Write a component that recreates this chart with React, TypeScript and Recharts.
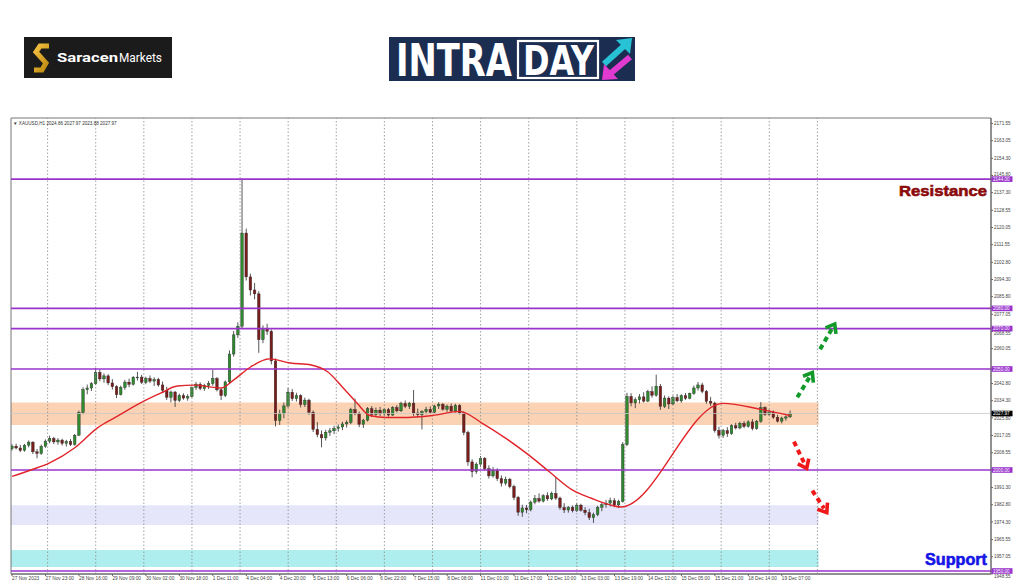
import React from "react";
import { ComposedChart, Bar, Line, XAxis, YAxis, ReferenceLine, ReferenceArea } from "recharts";

// XAUUSD candles, one candle per 2 hours
const opens = [
  2010.5, 2011.8, 2010.9, 2009.7, 2012.3, 2013.8, 2009.0, 2008.2, 2011.7, 2014.3, 2015.6, 2013.9, 2014.8, 2013.2, 2014.1, 2012.6,
  2017.2, 2028.5, 2039.8, 2040.6, 2042.7, 2048.3, 2045.1, 2046.6, 2043.1, 2041.2, 2037.3, 2040.9, 2043.5, 2042.4, 2045.9, 2046.0,
  2043.4, 2045.3, 2044.0, 2044.8, 2042.1, 2039.5, 2036.0, 2038.6, 2034.4, 2036.9, 2035.6, 2036.3, 2040.8, 2042.5, 2040.3, 2041.9,
  2042.8, 2045.3, 2039.7, 2036.8, 2043.6, 2057.4, 2066.9, 2071.2, 2117.3, 2095.6, 2089.1, 2087.2, 2064.5, 2070.2, 2068.7, 2054.0,
  2024.5, 2027.9, 2031.7, 2038.5, 2035.3, 2036.8, 2032.4, 2034.6, 2028.6, 2020.1, 2017.5, 2015.9, 2018.7, 2019.4, 2020.6, 2021.3,
  2022.8, 2023.5, 2029.9, 2028.0, 2022.6, 2024.7, 2030.3, 2027.5, 2029.6, 2027.8, 2029.9, 2027.2, 2030.9, 2029.3, 2032.9, 2031.5,
  2033.1, 2028.2, 2027.4, 2028.9, 2030.0, 2028.6, 2031.7, 2032.5, 2030.1, 2031.6, 2029.2, 2031.9, 2028.3, 2018.6, 2004.0, 1999.2,
  2002.9, 2005.8, 2000.6, 1997.1, 1999.8, 1995.7, 1993.5, 1995.4, 1991.8, 1986.4, 1979.1, 1981.2, 1980.3, 1984.1, 1985.9, 1984.6,
  1987.3, 1985.7, 1988.4, 1986.1, 1981.4, 1980.2, 1981.6, 1979.8, 1982.6, 1980.1, 1978.9, 1976.4, 1977.9, 1981.5, 1982.8, 1983.6,
  1984.8, 1982.7, 1984.4, 2012.6, 2036.4, 2033.2, 2034.8, 2036.2, 2034.1, 2038.8, 2037.0, 2041.5, 2031.5, 2035.6, 2032.7, 2035.9,
  2034.2, 2036.8, 2035.5, 2037.9, 2040.6, 2042.1, 2038.9, 2034.0, 2033.1, 2019.6, 2017.2, 2019.5, 2018.0, 2021.9, 2020.8, 2023.1,
  2021.6, 2023.8, 2020.5, 2024.1, 2030.9, 2027.6, 2028.7, 2026.1, 2024.2, 2025.7, 2026.3,
];
const highs = [
  2012.8, 2013.0, 2012.4, 2012.9, 2014.6, 2014.2, 2010.4, 2012.6, 2015.1, 2017.0, 2016.4, 2015.8, 2015.5, 2014.9, 2015.3, 2017.8,
  2029.4, 2041.0, 2042.3, 2043.5, 2050.5, 2049.6, 2047.8, 2047.4, 2045.0, 2042.0, 2041.8, 2044.6, 2045.2, 2046.5, 2048.6, 2047.1,
  2046.2, 2046.8, 2045.9, 2045.6, 2043.8, 2041.2, 2039.3, 2039.1, 2037.8, 2038.0, 2037.5, 2041.4, 2043.6, 2043.4, 2042.7, 2044.1,
  2049.6, 2046.0, 2040.5, 2044.3, 2059.2, 2068.8, 2073.1, 2144.2, 2119.5, 2097.2, 2092.6, 2088.5, 2071.6, 2072.4, 2069.6, 2055.2,
  2029.8, 2033.4, 2040.6, 2040.1, 2038.2, 2037.5, 2035.8, 2035.3, 2029.5, 2023.7, 2019.6, 2019.9, 2020.8, 2021.9, 2022.5, 2023.9,
  2024.6, 2030.8, 2035.4, 2028.9, 2025.3, 2031.2, 2031.6, 2030.9, 2031.2, 2030.6, 2030.7, 2031.6, 2032.1, 2033.8, 2034.4, 2033.7,
  2039.6, 2030.4, 2029.6, 2031.3, 2031.5, 2032.3, 2033.6, 2033.2, 2032.4, 2032.9, 2032.8, 2032.6, 2029.0, 2019.4, 2005.3, 2003.8,
  2006.9, 2006.4, 2002.3, 2001.5, 2000.9, 1997.3, 1996.7, 1996.1, 1992.7, 1987.2, 1982.8, 1982.7, 1984.9, 1987.6, 1988.4, 1988.0,
  1988.9, 1989.3, 1996.5, 1986.8, 1983.6, 1982.1, 1982.4, 1983.5, 1983.3, 1981.6, 1980.8, 1978.9, 1982.3, 1983.9, 1985.2, 1986.3,
  1986.1, 1985.3, 2013.8, 2038.2, 2038.0, 2035.9, 2037.6, 2038.5, 2039.7, 2041.4, 2047.2, 2042.6, 2036.9, 2036.4, 2036.8, 2037.6,
  2037.5, 2038.1, 2038.3, 2041.8, 2043.6, 2043.2, 2039.6, 2036.2, 2033.8, 2021.4, 2020.3, 2021.2, 2022.6, 2023.4, 2023.9, 2024.2,
  2024.6, 2025.2, 2024.8, 2033.6, 2031.6, 2029.9, 2029.5, 2027.3, 2026.4, 2027.0, 2029.4,
];
const lows = [
  2009.6, 2010.2, 2008.9, 2009.1, 2011.2, 2007.9, 2005.8, 2007.5, 2011.0, 2013.2, 2012.8, 2012.5, 2012.1, 2011.6, 2011.9, 2012.0,
  2016.8, 2027.6, 2037.5, 2039.1, 2042.0, 2043.9, 2043.2, 2042.0, 2039.8, 2035.6, 2036.9, 2039.7, 2041.0, 2041.8, 2044.3, 2042.6,
  2042.5, 2043.1, 2041.6, 2041.2, 2038.4, 2034.7, 2033.5, 2031.2, 2033.6, 2034.8, 2034.3, 2035.9, 2039.7, 2039.5, 2039.2, 2040.1,
  2041.7, 2038.9, 2034.6, 2036.1, 2043.0, 2056.1, 2065.4, 2069.8, 2093.8, 2086.4, 2084.5, 2058.0, 2062.8, 2066.9, 2052.3, 2021.6,
  2022.3, 2025.6, 2030.8, 2034.2, 2033.9, 2031.0, 2031.2, 2027.4, 2018.8, 2016.2, 2011.2, 2014.6, 2016.9, 2017.8, 2019.0, 2019.7,
  2021.0, 2022.7, 2027.1, 2021.2, 2020.8, 2024.0, 2026.2, 2026.8, 2026.7, 2026.9, 2026.4, 2026.8, 2028.5, 2028.7, 2030.6, 2030.2,
  2026.8, 2025.9, 2020.1, 2027.6, 2027.9, 2028.1, 2030.2, 2029.4, 2028.8, 2028.6, 2028.4, 2027.5, 2017.2, 2002.1, 1996.4, 1998.1,
  2001.6, 1999.7, 1995.8, 1996.2, 1994.6, 1991.8, 1992.4, 1990.9, 1985.1, 1977.3, 1976.8, 1978.6, 1979.5, 1983.0, 1983.8, 1983.9,
  1984.8, 1985.0, 1985.2, 1980.3, 1978.7, 1978.9, 1979.0, 1979.2, 1979.4, 1977.6, 1975.2, 1973.8, 1977.1, 1979.6, 1981.3, 1981.9,
  1981.6, 1981.2, 1983.9, 2011.8, 2031.5, 2030.6, 2032.9, 2033.4, 2033.6, 2035.8, 2036.3, 2029.8, 2030.7, 2030.2, 2032.1, 2033.6,
  2033.3, 2034.7, 2035.0, 2037.2, 2039.3, 2038.0, 2032.8, 2031.7, 2018.5, 2015.6, 2015.9, 2016.4, 2017.4, 2020.1, 2020.2, 2020.7,
  2021.0, 2019.6, 2019.9, 2023.4, 2026.8, 2026.9, 2025.3, 2023.5, 2023.1, 2024.4, 2025.8,
];
const closes = [
  2011.8, 2010.9, 2009.7, 2012.3, 2013.8, 2009.0, 2008.2, 2011.7, 2014.3, 2015.6, 2013.9, 2014.8, 2013.2, 2014.1, 2012.6, 2017.2,
  2028.5, 2039.8, 2040.6, 2042.7, 2048.3, 2045.1, 2046.6, 2043.1, 2041.2, 2037.3, 2040.9, 2043.5, 2042.4, 2045.9, 2046.0, 2043.4,
  2045.3, 2044.0, 2044.8, 2042.1, 2039.5, 2036.0, 2038.6, 2034.4, 2036.9, 2035.6, 2036.3, 2040.8, 2042.5, 2040.3, 2041.9, 2042.8,
  2045.3, 2039.7, 2036.8, 2043.6, 2057.4, 2066.9, 2071.2, 2117.3, 2095.6, 2089.1, 2087.2, 2064.5, 2070.2, 2068.7, 2054.0, 2024.5,
  2027.9, 2031.7, 2038.5, 2035.3, 2036.8, 2032.4, 2034.6, 2028.6, 2020.1, 2017.5, 2015.9, 2018.7, 2019.4, 2020.6, 2021.3, 2022.8,
  2023.5, 2029.9, 2028.0, 2022.6, 2024.7, 2030.3, 2027.5, 2029.6, 2027.8, 2029.9, 2027.2, 2030.9, 2029.3, 2032.9, 2031.5, 2033.1,
  2028.2, 2027.4, 2028.9, 2030.0, 2028.6, 2031.7, 2032.5, 2030.1, 2031.6, 2029.2, 2031.9, 2028.3, 2018.6, 2004.0, 1999.2, 2002.9,
  2005.8, 2000.6, 1997.1, 1999.8, 1995.7, 1993.5, 1995.4, 1991.8, 1986.4, 1979.1, 1981.2, 1980.3, 1984.1, 1985.9, 1984.6, 1987.3,
  1985.7, 1988.4, 1986.1, 1981.4, 1980.2, 1981.6, 1979.8, 1982.6, 1980.1, 1978.9, 1976.4, 1977.9, 1981.5, 1982.8, 1983.6, 1984.8,
  1982.7, 1984.4, 2012.6, 2036.4, 2033.2, 2034.8, 2036.2, 2034.1, 2038.8, 2037.0, 2041.5, 2031.5, 2035.6, 2032.7, 2035.9, 2034.2,
  2036.8, 2035.5, 2037.9, 2040.6, 2042.1, 2038.9, 2034.0, 2033.1, 2019.6, 2017.2, 2019.5, 2018.0, 2021.9, 2020.8, 2023.1, 2021.6,
  2023.8, 2020.5, 2024.1, 2030.9, 2027.6, 2028.7, 2026.1, 2024.2, 2025.7, 2026.3, 2027.97,
];

// red moving average (hour index, price)
const maHours = [0, 9, 18, 30, 41, 50, 61, 71, 79, 87, 100, 106, 114, 123, 133, 143, 151, 158, 165, 171, 179, 186, 201, 214, 225, 237, 248, 257, 268, 277, 286, 291, 340, 358, 372];
const maValues = [1996.8, 2000.0, 2003.5, 2011.0, 2021.0, 2026.4, 2033.0, 2038.0, 2041.6, 2042.0, 2040.6, 2044.6, 2051.0, 2055.0, 2053.0, 2052.0, 2048.5, 2041.0, 2033.0, 2027.0, 2026.0, 2026.0, 2027.0, 2029.0, 2023.0, 2015.0, 2006.6, 1999.0, 1990.0, 1986.0, 1982.7, 1981.7, 2033.0, 2030.0, 2027.0];

const tickHours = [0, 16, 32, 48, 64, 80, 96, 112, 128, 144, 160, 176, 192, 208, 224, 240, 256, 272, 288, 304, 320, 336, 352, 368];
const tickLabels = [
  "27 Nov 2023", "27 Nov 23:00", "28 Nov 16:00", "29 Nov 09:00", "30 Nov 02:00", "30 Nov 18:00", "1 Dec 11:00", "4 Dec 04:00",
  "4 Dec 20:00", "5 Dec 13:00", "6 Dec 06:00", "6 Dec 22:00", "7 Dec 15:00", "8 Dec 08:00", "11 Dec 01:00", "11 Dec 17:00",
  "12 Dec 10:00", "13 Dec 03:00", "13 Dec 19:00", "14 Dec 12:00", "15 Dec 05:00", "15 Dec 21:00", "18 Dec 14:00", "19 Dec 07:00",
];
const separators = [17, 40, 63, 86, 109, 132, 155, 178, 201, 224, 247, 270, 293, 316, 339, 362, 385];

// price scale labels (the ones that sit fully under the level boxes are left out)
const priceTicks = [
  2171.55, 2163.05, 2154.3, 2145.8, 2137.3, 2128.55, 2120.05, 2111.55, 2102.8, 2094.3, 2085.8, 2077.05, 2068.55, 2060.05,
  2042.8, 2034.3, 2025.8, 2017.05, 2008.55, 1991.3, 1982.8, 1974.3, 1965.55, 1957.05, 1948.55,
];
const levels = [2144, 2080, 2070, 2050, 2000, 1950];
const lastPrice = 2027.97;

const zones = [
  { from: 2022.3, to: 2033.4, color: "#fbd3b4" },
  { from: 1972.8, to: 1982.6, color: "#e6e6fa" },
  { from: 1952.0, to: 1960.4, color: "#aeeeee" },
];
const zoneEnd = 385.6;

// scenario arrows: [fromHour, fromPrice, toHour, toPrice]
const upArrows = [[375.4, 2036.0, 382.6, 2048.2], [386.3, 2059.8, 393.3, 2072.3]];
const downArrows = [[373.8, 2014.0, 379.9, 2000.8], [382.6, 1989.8, 389.5, 1978.9]];

const X_DOMAIN = [-0.5, 468];
const Y_DOMAIN = [1948.51, 2174.26];
const PX_PER_USD = 456 / (Y_DOMAIN[1] - Y_DOMAIN[0]);
const PURPLE = "#9933cc";
const SMALL = '"Liberation Sans", Arial, sans-serif';
const LOGO_FONT = '"Liberation Sans Narrow", "DejaVu Sans Condensed", sans-serif';

const candles = opens.map((o, i) => ({ h: i * 2, o, hi: highs[i], lo: lows[i], c: closes[i] }));
const maData = maHours.map((h, i) => ({ h, ma: maValues[i] }));

const Candle = (props: any) => {
  const { x, y, width, height, payload } = props;
  if (x == null || y == null) return null;
  const { o, hi, lo, c } = payload;
  const cx = x + width / 2;
  const range = hi - lo || 1;
  const toY = (v: number) => y + ((hi - v) / range) * height;
  const top = toY(Math.max(o, c));
  const bot = toY(Math.min(o, c));
  const up = c >= o;
  return (
    <g>
      <line x1={cx} x2={cx} y1={y} y2={y + height} stroke="#2b2b2b" strokeWidth={0.8} />
      <rect
        x={cx - 1.3}
        y={top}
        width={2.6}
        height={Math.max(bot - top, 0.8)}
        fill={up ? "#2f8a2f" : "#7a1c1c"}
        stroke="#2b2b2b"
        strokeWidth={0.4}
      />
    </g>
  );
};

const PriceTick = (props: any) => {
  const { x, y, payload } = props;
  const v = payload.value;
  const label = v.toFixed(2);
  if (levels.includes(v) || v === lastPrice) {
    return (
      <g>
        <rect x={x - 2.5} y={y - 2.8} width={21} height={5.6} fill={v === lastPrice ? "#000" : PURPLE} />
        <text x={x - 1} y={y + 1.7} fontSize={4.6} fill="#fff" fontFamily={SMALL}>{label}</text>
      </g>
    );
  }
  // labels right next to a box peek out from under it, as on the terminal
  let dy = 0;
  for (const b of [...levels, lastPrice]) {
    const d = (b - v) * PX_PER_USD; // >0: box is above the label
    if (Math.abs(d) < 5) dy = d > 0 ? 5 - d : -(5 + d);
  }
  return <text x={x} y={y + 1.7 + dy} fontSize={4.6} fill="#444" fontFamily={SMALL}>{label}</text>;
};

const TimeTick = (props: any) => {
  const { x, y, payload } = props;
  const i = tickHours.indexOf(payload.value);
  return <text x={x} y={y + 4} fontSize={4.8} fill="#444" fontFamily={SMALL}>{tickLabels[i]}</text>;
};

const arrowShape = (color: string) => (p: any) => {
  const { x1, y1, x2, y2 } = p;
  const ang = Math.atan2(y2 - y1, x2 - x1);
  const len = 10;
  const a1 = ang + Math.PI - 0.65;
  const a2 = ang + Math.PI + 0.65;
  const bx = x2 - Math.cos(ang) * 5;
  const by = y2 - Math.sin(ang) * 5;
  return (
    <g>
      <line x1={x1} y1={y1} x2={bx} y2={by} stroke={color} strokeWidth={4} strokeDasharray="5 4" />
      <polyline
        points={`${x2 + len * Math.cos(a1)},${y2 + len * Math.sin(a1)} ${x2},${y2} ${x2 + len * Math.cos(a2)},${y2 + len * Math.sin(a2)}`}
        fill="none"
        stroke={color}
        strokeWidth={3.6}
      />
    </g>
  );
};

export default function App() {
  return (
    <div style={{ position: "absolute", left: 0, top: 0, width: 1024, height: 587, background: "#fff", overflow: "hidden" }}>
      <ComposedChart
        width={1024}
        height={587}
        data={candles}
        margin={{ top: 118, right: 0, left: 11, bottom: 0 }}
        style={{ position: "absolute", left: 0, top: 0 }}
      >
        <XAxis
          type="number"
          dataKey="h"
          domain={X_DOMAIN}
          allowDataOverflow
          ticks={tickHours}
          interval={0}
          height={13}
          tickSize={2}
          tickMargin={0}
          stroke="#666"
          tick={<TimeTick />}
        />
        <YAxis
          orientation="right"
          type="number"
          domain={Y_DOMAIN}
          allowDataOverflow
          ticks={[...priceTicks, lastPrice, ...levels]}
          interval={0}
          width={33}
          tickSize={2}
          tickMargin={1}
          stroke="#666"
          tick={<PriceTick />}
        />
        {zones.map((z) => (
          <ReferenceArea key={z.from} x1={X_DOMAIN[0]} x2={zoneEnd} y1={z.from} y2={z.to} fill={z.color} fillOpacity={1} stroke="none" />
        ))}
        {separators.map((h) => (
          <ReferenceLine key={h} x={h} stroke="#8a8a8a" strokeWidth={0.8} strokeDasharray="1.5 2" />
        ))}
        <ReferenceLine y={lastPrice} stroke="#c8c8c8" strokeWidth={0.8} />
        {levels.map((v) => (
          <ReferenceLine key={v} y={v} stroke={PURPLE} strokeWidth={1.6} />
        ))}
        <ReferenceArea x1={X_DOMAIN[0]} x2={X_DOMAIN[1]} y1={Y_DOMAIN[0]} y2={Y_DOMAIN[1]} fill="none" stroke="#777" />
        <Bar dataKey={(d: any) => [d.lo, d.hi]} barSize={3} shape={Candle} isAnimationActive={false} />
        <Line
          data={maData}
          dataKey="ma"
          type="monotone"
          stroke="#e0242a"
          strokeWidth={1.4}
          dot={false}
          isAnimationActive={false}
        />
        {upArrows.map((a, i) => (
          <ReferenceLine key={"u" + i} segment={[{ x: a[0], y: a[1] }, { x: a[2], y: a[3] }]} shape={arrowShape("#12992a")} />
        ))}
        {downArrows.map((a, i) => (
          <ReferenceLine key={"d" + i} segment={[{ x: a[0], y: a[1] }, { x: a[2], y: a[3] }]} shape={arrowShape("#f01818")} />
        ))}
      </ComposedChart>

      <svg width={1024} height={587} style={{ position: "absolute", left: 0, top: 0, pointerEvents: "none" }}>
        {/* Saracen Markets logo */}
        <rect x={24} y={37} width={148} height={41} fill="#1b1b1b" />
        <defs>
          <linearGradient id="gold" x1="0" y1="0" x2="1" y2="1">
            <stop offset="0" stopColor="#f6c343" />
            <stop offset="1" stopColor="#b8860b" />
          </linearGradient>
        </defs>
        <polyline points="49,46 40,46 36,52 46,63 42,70 34,70" fill="none" stroke="url(#gold)" strokeWidth={5} strokeLinejoin="miter" />
        <text y={62} fontSize={13} fill="#fff" fontFamily="Roboto, sans-serif">
          <tspan x={57} fontWeight={700} textLength={61} lengthAdjust="spacingAndGlyphs">Saracen</tspan>
          <tspan x={119} textLength={43} lengthAdjust="spacingAndGlyphs">Markets</tspan>
        </text>

        {/* INTRADAY logo: smaller glyphs stretched upward so the text boxes stay apart */}
        <rect x={389} y={37} width={246} height={44} fill="#1c2d52" />
        <rect x={518} y={41} width={80} height={37} fill="none" stroke="#fff" strokeWidth={2.2} />
        <g transform="translate(396 76) scale(1 1.3)">
          <text x={0} y={0} fontSize={34} fontWeight={700} fill="#fff" fontFamily={LOGO_FONT} textLength={116} lengthAdjust="spacingAndGlyphs">INTRA</text>
        </g>
        <g transform="translate(523 75) scale(1 1.25)">
          <text x={0} y={0} fontSize={33} fontWeight={700} fill="#fff" fontFamily={LOGO_FONT} textLength={71} lengthAdjust="spacingAndGlyphs">DAY</text>
        </g>
        <line x1={604} y1={64} x2={624} y2={46} stroke="#27c3d4" strokeWidth={6} />
        <polygon points="616,40 632,38 630,54" fill="#27c3d4" />
        <line x1={630} y1={57} x2={611} y2={73} stroke="#e03ad0" strokeWidth={6} />
        <polygon points="618,79 602,80 604,64" fill="#e03ad0" />

        {/* chart header */}
        <text x={13} y={125} fontSize={4.6} fill="#333" fontFamily={SMALL}>▼ XAUUSD,H1  2024.86 2027.97 2023.88 2027.97</text>

        <text x={899} y={196} fontSize={15} fontWeight={700} fill="#8b0a0a" stroke="#8b0a0a" strokeWidth={0.6} fontFamily={'"Liberation Sans", sans-serif'} textLength={88} lengthAdjust="spacingAndGlyphs">Resistance</text>
        <text x={925} y={565} fontSize={16} fontWeight={700} fill="#1414e6" stroke="#1414e6" strokeWidth={0.6} fontFamily={'"Liberation Sans", sans-serif'} textLength={62} lengthAdjust="spacingAndGlyphs">Support</text>
      </svg>
    </div>
  );
}
